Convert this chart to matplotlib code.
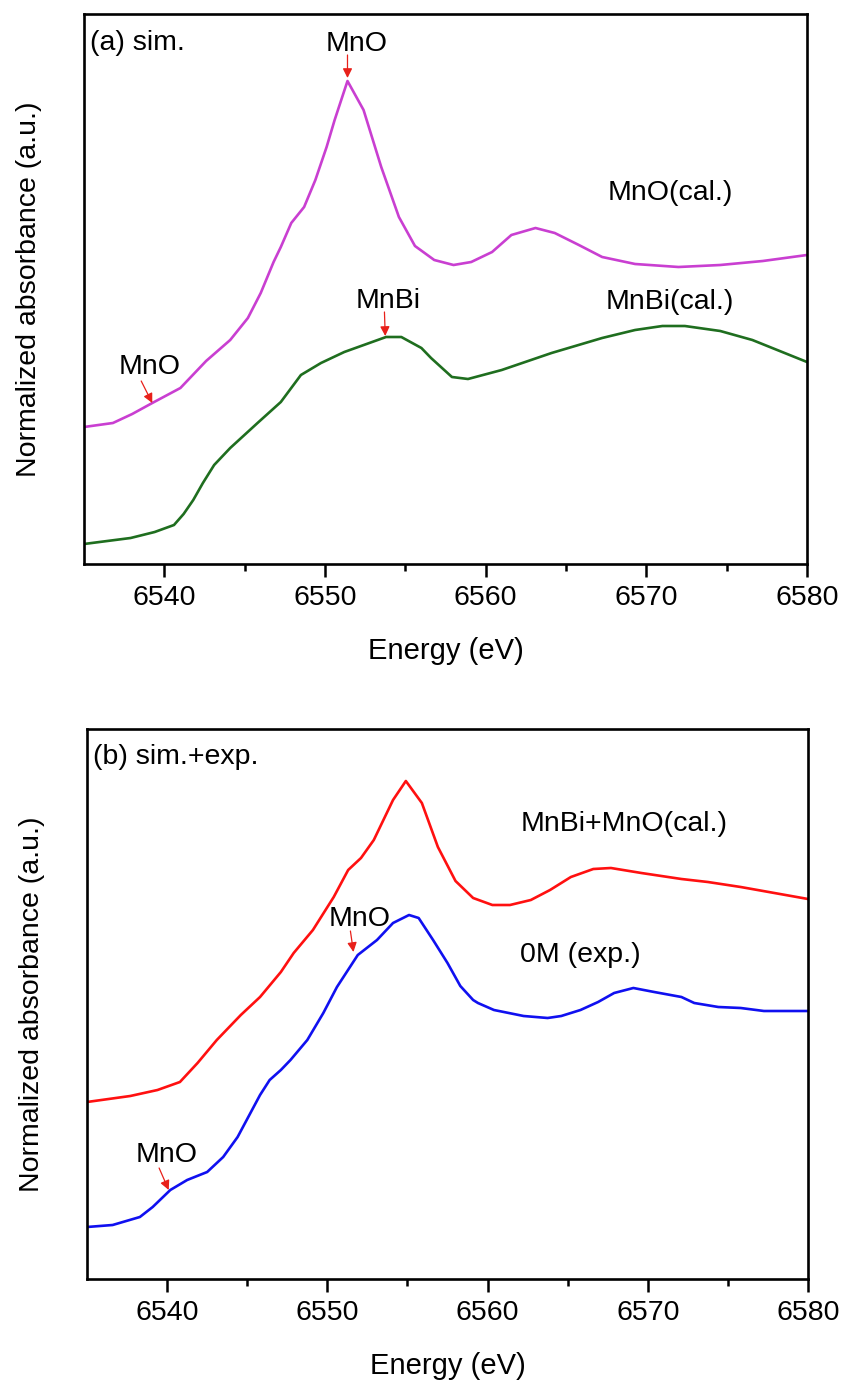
import matplotlib
matplotlib.use("Agg")
import matplotlib.pyplot as plt

plt.rcParams['font.family'] = ['Liberation Sans', 'DejaVu Sans']

# ---------------- data: panel (a) ----------------
E_mno_cal = [6535, 6536.8, 6538, 6539.25, 6541, 6542.6, 6544.1, 6545.2, 6546, 6546.8,
             6547.25, 6547.9, 6548.7, 6549.4, 6550.1, 6550.6, 6551.4, 6552.4, 6553.5,
             6554.6, 6555.6, 6556.8, 6558, 6559.1, 6560.4, 6561.6, 6563.1, 6564.3,
             6565.8, 6567.25, 6569.3, 6572, 6574.6, 6577.25, 6580]
A_mno_cal = [1.37, 1.41, 1.50, 1.61, 1.76, 2.03, 2.24, 2.46, 2.71, 3.02,
             3.17, 3.41, 3.57, 3.84, 4.17, 4.44, 4.83, 4.54, 3.97,
             3.47, 3.18, 3.04, 2.99, 3.02, 3.12, 3.29, 3.36, 3.31,
             3.19, 3.07, 3.00, 2.97, 2.99, 3.03, 3.09]

E_mnbi_cal = [6535, 6537.9, 6539.4, 6540.6, 6541.2, 6541.8, 6542.4, 6543.1, 6544.1,
              6545.8, 6547.25, 6548.5, 6549.75, 6551.2, 6553.8, 6554.75, 6556, 6556.6,
              6557.9, 6558.9, 6561, 6564.1, 6567.25, 6569.3, 6571, 6572.4, 6574.6,
              6576.6, 6580]
A_mnbi_cal = [0.20, 0.26, 0.32, 0.39, 0.50, 0.64, 0.81, 0.99, 1.16,
              1.41, 1.62, 1.89, 2.01, 2.12, 2.27, 2.27, 2.16, 2.06,
              1.87, 1.85, 1.94, 2.11, 2.26, 2.34, 2.38, 2.38, 2.33,
              2.24, 2.02]

# ---------------- data: panel (b) ----------------
E_mix_cal = [6535, 6537.7, 6539.4, 6540.8, 6541.9, 6543.1, 6544.6, 6545.8, 6547.1,
             6547.9, 6549.1, 6550.4, 6551.3, 6552.1, 6552.9, 6554.1, 6554.9, 6555.9,
             6556.9, 6558, 6559.1, 6560.3, 6561.4, 6562.7, 6563.9, 6565.2, 6566.6,
             6567.7, 6569.6, 6572.1, 6573.75, 6575.8, 6577.9, 6580]
A_mix_cal = [1.77, 1.83, 1.89, 1.97, 2.16, 2.39, 2.64, 2.82, 3.07,
             3.26, 3.49, 3.82, 4.09, 4.21, 4.39, 4.79, 4.98, 4.76,
             4.32, 3.98, 3.81, 3.74, 3.74, 3.79, 3.89, 4.02, 4.10,
             4.11, 4.06, 4.00, 3.97, 3.92, 3.86, 3.80]

E_exp = [6535, 6536.6, 6538.3, 6539.1, 6540.2, 6541.25, 6542.5, 6543.5, 6544.4,
         6545.2, 6545.8, 6546.4, 6547.1, 6547.7, 6548.75, 6549.75, 6550.6, 6551.9,
         6553.1, 6554.1, 6555.1, 6555.7, 6556.6, 6557.5, 6558.3, 6559.1, 6559.4,
         6560.4, 6562.25, 6563.75, 6564.6, 6565.8, 6566.9, 6567.9, 6569.1, 6570.4,
         6572.1, 6572.9, 6574.4, 6575.8, 6577.25, 6578.75, 6580]
A_exp = [0.52, 0.54, 0.62, 0.72, 0.89, 0.99, 1.07, 1.22, 1.42,
         1.66, 1.84, 1.99, 2.09, 2.19, 2.39, 2.66, 2.92, 3.24,
         3.39, 3.56, 3.64, 3.61, 3.39, 3.16, 2.93, 2.79, 2.76,
         2.69, 2.63, 2.61, 2.63, 2.69, 2.77, 2.86, 2.91, 2.87,
         2.82, 2.76, 2.72, 2.71, 2.68, 2.68, 2.68]

x_ticks = [6540, 6550, 6560, 6570, 6580]

# ---------------- figure ----------------
W, H = 845, 1382
fig = plt.figure(figsize=(W / 100, H / 100), dpi=100)

ax_a = fig.add_axes([84 / W, 1 - 564 / H, 723 / W, 550 / H])
ax_b = fig.add_axes([87 / W, 1 - 1279 / H, 721 / W, 550 / H])

FS = 20.5
MAG = '#C93FD1'
GRN = '#1F6E1F'
RED = '#FF1010'
BLU = '#1010F0'
ARR = '#E8201A'


def style(ax):
    ax.set_xlim(6535, 6580)
    ax.set_ylim(0, 5.5)
    ax.set_xticks(x_ticks)
    ax.set_xticks([6545, 6555, 6565, 6575], minor=True)
    ax.set_yticks([])
    for s in ax.spines.values():
        s.set_linewidth(1.9)
    ax.tick_params(axis='x', which='major', direction='out', length=9, width=1.8,
                   labelsize=FS, pad=6)
    ax.tick_params(axis='x', which='minor', direction='out', length=5, width=1.8)
    ax.set_xlabel('Energy (eV)', fontsize=FS + 0.5)
    ax.xaxis.set_label_coords(0.5, -0.133)
    ax.set_ylabel('Normalized absorbance (a.u.)', fontsize=FS)


def arrow(ax, x0, y0, x1, y1):
    ax.annotate('', xy=(x1, y1), xytext=(x0, y0),
                arrowprops=dict(arrowstyle='-|>', color=ARR, lw=0.9,
                                mutation_scale=14, shrinkA=0, shrinkB=0))


# panel (a)
ax_a.plot(E_mno_cal, A_mno_cal, color=MAG, lw=1.9)
ax_a.plot(E_mnbi_cal, A_mnbi_cal, color=GRN, lw=1.9)
style(ax_a)
ax_a.yaxis.set_label_coords(-0.058, 0.5)
ax_a.text(0.008, 0.947, '(a) sim.', transform=ax_a.transAxes, fontsize=FS,
          ha='left', va='center')
ax_a.text(6551.94, 5.20, 'MnO', fontsize=FS, ha='center', va='center')
arrow(ax_a, 6551.4, 5.09, 6551.4, 4.86)
ax_a.text(6571.5, 3.71, 'MnO(cal.)', fontsize=FS, ha='center', va='center')
ax_a.text(6553.94, 2.63, 'MnBi', fontsize=FS, ha='center', va='center')
arrow(ax_a, 6553.7, 2.52, 6553.75, 2.28)
ax_a.text(6571.44, 2.62, 'MnBi(cal.)', fontsize=FS, ha='center', va='center')
ax_a.text(6539.06, 1.97, 'MnO', fontsize=FS, ha='center', va='center')
arrow(ax_a, 6538.56, 1.83, 6539.25, 1.61)

# panel (b)
ax_b.plot(E_mix_cal, A_mix_cal, color=RED, lw=1.9)
ax_b.plot(E_exp, A_exp, color=BLU, lw=1.9)
style(ax_b)
ax_b.yaxis.set_label_coords(-0.058, 0.5)
ax_b.text(0.008, 0.949, '(b) sim.+exp.', transform=ax_b.transAxes, fontsize=FS,
          ha='left', va='center')
ax_b.text(6568.5, 4.55, 'MnBi+MnO(cal.)', fontsize=FS, ha='center', va='center')
ax_b.text(6565.8, 3.24, '0M (exp.)', fontsize=FS, ha='center', va='center')
ax_b.text(6552.0, 3.60, 'MnO', fontsize=FS, ha='center', va='center')
arrow(ax_b, 6551.44, 3.48, 6551.63, 3.27)
ax_b.text(6540.0, 1.24, 'MnO', fontsize=FS, ha='center', va='center')
arrow(ax_b, 6539.5, 1.11, 6540.1, 0.89)

fig.savefig('out.png', dpi=100)
